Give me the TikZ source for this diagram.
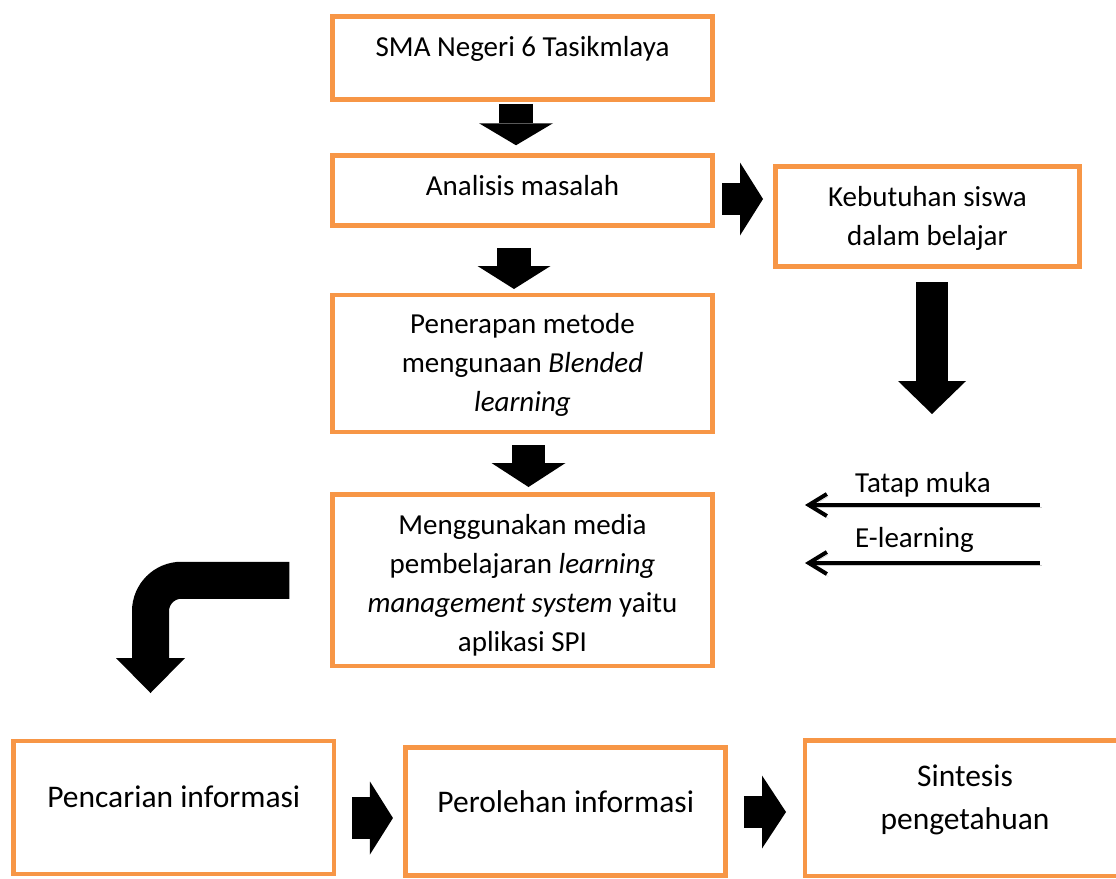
\documentclass[tikz,border=0pt]{standalone}
\usepackage{fontspec}
\setmainfont{Carlito}
\usetikzlibrary{arrows.meta}
\definecolor{BoxOrange}{HTML}{F79646}

\newcommand{\bodyfont}{\fontsize{29}{39}\selectfont}
\newcommand{\bigfont}{\fontsize{31.5}{43}\selectfont}

\begin{document}
\begin{tikzpicture}[x=1pt, y=-1pt,
    box/.style={draw=BoxOrange, line width=4.5pt},
    txt/.style={inner sep=0pt, align=center, anchor=north, font=\bodyfont,
                execute at begin node=\strut},
    bigtxt/.style={txt, font=\bigfont},
    fat/.style n args={3}{line width=#1pt,
                          -{Triangle[length=#2pt, width=#3pt, line width=0pt]}},
    thinarrow/.style={line width=4pt, -{Straight Barb[length=18pt, width=22pt]},
                      preaction={draw=black!20, transform canvas={shift={(1.5pt,-2.5pt)}}}}]
  \path[use as bounding box, clip] (0,0) rectangle (1116,878);
  \fill[white] (0,0) rectangle (1116,878);

  % Boxes
  \node[box, minimum width=380pt, minimum height=83pt] (sma) at (522.5,58) {};
  \node[box, minimum width=380pt, minimum height=70pt] (ana) at (522.5,190.5) {};
  \node[box, minimum width=304pt, minimum height=100pt] (keb) at (927.5,216.5) {};
  \node[box, minimum width=380pt, minimum height=137pt] (pen) at (522.5,363.5) {};
  \node[box, minimum width=380pt, minimum height=171.5pt] (men) at (522.5,580.25) {};
  \node[box, minimum width=320.5pt, minimum height=133pt] (pc) at (173.75,807.5) {};
  \node[box, minimum width=320pt, minimum height=128pt] (po) at (565.7,811.5) {};
  \node[box, minimum width=320pt, minimum height=135.5pt] (si) at (965,808.25) {};

  % Texts
  \node[txt] (sma-t) at (522.5,28.5) {SMA Negeri 6 Tasikmlaya};
  \node[txt] (ana-t) at (522.5,167.7) {Analisis masalah};
  \node[txt] (keb-t) at (927.5,185.7) {Kebutuhan siswa\\dalam belajar};
  \node[txt] (pen-t) at (522.5,312.7)
    {Penerapan metode\\mengunaan \textit{Blended}\\\textit{learning}};
  \node[txt] (men-t) at (522.5,513.7)
    {Menggunakan media\\pembelajaran \textit{learning}\\\textit{management system} yaitu\\aplikasi SPI};
  \node[bigtxt] (pc-t) at (173.75,776.9) {Pencarian informasi};
  \node[bigtxt] (po-t) at (565.7,782.5) {Perolehan informasi};
  \node[bigtxt] (si-t) at (965,764.9) {Sintesis\\pengetahuan};
  \node[font=\bodyfont, inner sep=0pt, anchor=base west] (tm-t) at (855,492) {Tatap muka};
  \node[font=\bodyfont, inner sep=0pt, anchor=base west] (el-t) at (855,547) {E-learning};

  % Block arrows
  \draw[fat={34}{22}{74}] ([xshift=-6.5pt,yshift=-2pt]sma.south)
    -- ([xshift=-6.5pt,yshift=8pt]ana.north);
  \draw[fat={34}{23}{73}] ([xshift=-8.5pt,yshift=-20pt]ana.south)
    -- ([xshift=-8.5pt,yshift=3.75pt]pen.north);
  \draw[fat={33}{24}{74}] ([xshift=6pt,yshift=-10.75pt]pen.south)
    -- ([xshift=6pt,yshift=5.25pt]men.north);
  \draw[fat={32}{23}{73}] ([xshift=7.25pt,yshift=-8.5pt]ana.east)
    -- ([xshift=-10.25pt,yshift=17.5pt]keb.west);
  \coordinate (keb-out) at (932,414);
  \draw[fat={32}{33}{68}] ([xshift=4.5pt,yshift=-13.25pt]keb.south) -- (keb-out);
  \draw[fat={37}{35}{69}, rounded corners=31pt] ([xshift=-41pt]men.west)
    -| ([xshift=-23.25pt,yshift=45.75pt]pc.north);
  \draw[fat={42}{23}{73}] ([xshift=15.75pt,yshift=-10.5pt]pc.east)
    -- ([xshift=-10.5pt,yshift=-6.5pt]po.west);
  \draw[fat={32}{24}{73}] ([xshift=16pt,yshift=-0.5pt]po.east)
    -- ([xshift=-16.75pt,yshift=-3.75pt]si.west);

  % Thin arrows
  \coordinate (tm-r) at (1040,505);
  \coordinate (tm-l) at (805,505);
  \coordinate (el-r) at (1040,563);
  \coordinate (el-l) at (805,563);
  \draw[thinarrow] (tm-r) -- (tm-l);
  \draw[thinarrow] (el-r) -- (el-l);
\end{tikzpicture}
\end{document}
